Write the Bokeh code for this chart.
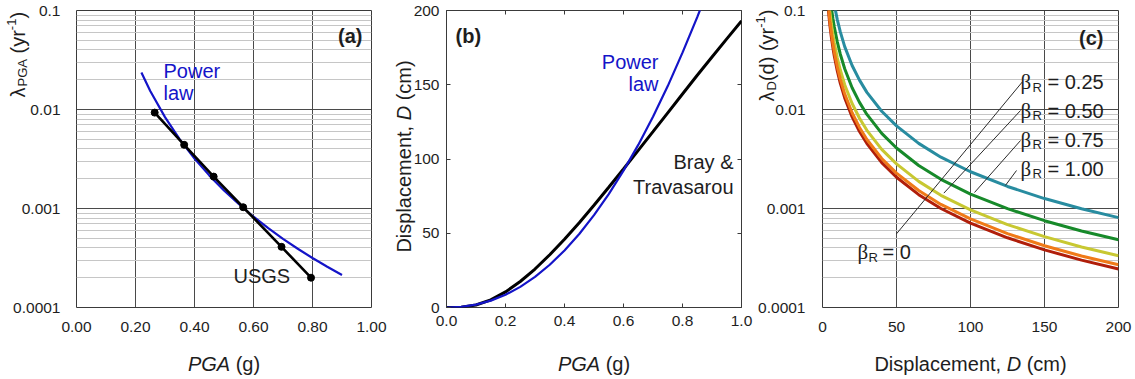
from math import pi

from bokeh.core.properties import value
from bokeh.embed import file_html
from bokeh.layouts import column, row
from bokeh.models import (CustomJSTickFormatter, FixedTicker, Label,
                          LinearAxis, Range1d)
from bokeh.plotting import figure
from bokeh.resources import INLINE

# ---------------- (a) annual exceedance rate of PGA ----------------
usgs_pga = [0.265, 0.365, 0.465, 0.565, 0.695, 0.795]
usgs_rate = [0.0093, 0.0044, 0.0021, 0.00103, 0.00041, 0.00020]
fit_pga = [0.22, 0.25, 0.30, 0.35, 0.40, 0.45, 0.50, 0.55,
           0.60, 0.65, 0.70, 0.75, 0.80, 0.85, 0.90]
fit_rate = [0.0236, 0.0154, 0.00838, 0.00500, 0.00320, 0.00216, 0.00152, 0.00111,
            0.000826, 0.000633, 0.000494, 0.000392, 0.000316, 0.000258, 0.000213]

# ---------------- (b) displacement vs PGA ----------------
bt_pga = [0.0, 0.05, 0.10, 0.15, 0.20, 0.25, 0.30, 0.35, 0.40, 0.45, 0.50,
          0.55, 0.60, 0.65, 0.70, 0.75, 0.80, 0.85, 0.90, 0.95, 1.00]
bt_disp = [0.0, 0.2, 1.7, 5.1, 10.5, 17.5, 25.9, 35.5, 46.0, 57.1, 68.9,
           81.0, 93.3, 105.8, 118.4, 131.1, 143.8, 156.4, 168.7, 180.9, 193.0]
pow_pga = [0.0, 0.05, 0.10, 0.15, 0.20, 0.25, 0.30, 0.35, 0.40, 0.45,
           0.50, 0.55, 0.60, 0.65, 0.70, 0.75, 0.80, 0.85, 0.90]
pow_disp = [0.0, 0.43, 1.92, 4.62, 8.60, 13.9, 20.6, 28.8, 38.4, 49.5,
            62.2, 76.4, 92.2, 109.5, 128.5, 149.1, 171.6, 195.5, 221.2]

# ---------------- (c) displacement hazard curves ----------------
disp_c = [4, 5, 6, 7, 8, 10, 12, 15, 20, 25, 30, 40, 50, 65, 80, 100, 125, 150, 175, 200]
rate_b000 = [0.100, 0.0710, 0.0536, 0.0424, 0.0345, 0.0245, 0.0185, 0.0131, 0.00843, 0.00599,
             0.00453, 0.00291, 0.00207, 0.00138, 0.00100, 0.000713, 0.000506, 0.000382, 0.000301, 0.000245]
rate_b025 = [0.110, 0.0781, 0.0590, 0.0466, 0.0380, 0.0270, 0.0204, 0.0144, 0.00927, 0.00659,
             0.00498, 0.00320, 0.00228, 0.00152, 0.00110, 0.000784, 0.000557, 0.000420, 0.000331, 0.000270]
rate_b050 = [0.136, 0.0966, 0.0729, 0.0577, 0.0469, 0.0333, 0.0252, 0.0178, 0.0115, 0.00815,
             0.00616, 0.00396, 0.00282, 0.00188, 0.00136, 0.000970, 0.000688, 0.000520, 0.000409, 0.000333]
rate_b075 = [0.197, 0.140, 0.106, 0.0835, 0.0680, 0.0483, 0.0364, 0.0258, 0.0166, 0.0118,
             0.00892, 0.00573, 0.00408, 0.00272, 0.00197, 0.00140, 0.000997, 0.000753, 0.000593, 0.000483]
rate_b100 = [0.330, 0.234, 0.177, 0.140, 0.114, 0.0809, 0.0611, 0.0432, 0.0278, 0.0198,
             0.0149, 0.00960, 0.00683, 0.00455, 0.00330, 0.00235, 0.00167, 0.00126, 0.000993, 0.000809]
beta_labels = ["0.25", "0.50", "0.75", "1.00"]

# tick positions
pga_ticks = [0.0, 0.2, 0.4, 0.6, 0.8, 1.0]
rate_ticks = [1e-4, 1e-3, 1e-2, 1e-1]
rate_minor = [k * 10.0 ** e for e in (-4, -3, -2) for k in range(2, 10)]
disp_ticks = [0, 50, 100, 150, 200]

FONT = "Liberation Sans"
INK = "#1e1e1e"
BLUE = "#1414c8"
FRAME_LINE = "#3a3a3a"
MAJOR_GRID = "#4a4a4a"
MINOR_GRID = "#c6c6c6"

PAGE_W, PAGE_H = 1135, 379
TOP, FRAME_H, BOTTOM = 10, 297, 72
FRAME_BOTTOM = TOP + FRAME_H


def panel(left, frame_w, right, xr, yr, log_y=False):
    p = figure(frame_width=frame_w, frame_height=FRAME_H,
               min_border_left=left, min_border_right=right,
               min_border_top=TOP, min_border_bottom=BOTTOM,
               x_range=Range1d(*xr), y_range=Range1d(*yr),
               y_axis_type="log" if log_y else "linear",
               output_backend="svg", toolbar_location=None)
    p.outline_line_color = FRAME_LINE
    p.outline_line_width = 1
    p.background_fill_color = "white"
    p.border_fill_color = "white"
    for ax in p.axis:
        ax.axis_line_color = None
        ax.major_tick_line_color = None
        ax.minor_tick_line_color = None
        ax.major_label_text_font = FONT
        ax.major_label_text_font_size = "15.5px"
        ax.major_label_text_color = INK
    p.xaxis.major_label_standoff = 8
    return p


def put(p, frame_left, text, cx, cy, size=20, style="normal", color=INK,
        align="left", font=FONT):
    """In-frame text piece placed by page position (cx, cy from the page's top-left)."""
    p.add_layout(Label(x=cx - frame_left, y=FRAME_BOTTOM - cy,
                       x_units="screen", y_units="screen", text=text,
                       text_font=font, text_font_size=f"{size}px",
                       text_font_style=style, text_color=color,
                       text_align=align, text_baseline="middle"))


log_fmt = CustomJSTickFormatter(code="return tick.toFixed(Math.round(-Math.log10(tick)));")

# ======================= panel (a) =======================
FA = 76
pa = panel(FA, 295, 19, (0, 1), (1e-4, 0.1), log_y=True)
pa.xaxis.ticker = FixedTicker(ticks=pga_ticks)
pa.xaxis.formatter = CustomJSTickFormatter(code="return tick.toFixed(2);")
pa.yaxis.ticker = FixedTicker(ticks=rate_ticks, minor_ticks=rate_minor)
pa.yaxis.formatter = log_fmt
pa.yaxis.major_label_standoff = 10
pa.xgrid.ticker = FixedTicker(ticks=pga_ticks)
pa.ygrid.ticker = FixedTicker(ticks=rate_ticks, minor_ticks=rate_minor)
pa.xgrid.grid_line_color = MAJOR_GRID
pa.ygrid.grid_line_color = MAJOR_GRID
pa.ygrid.minor_grid_line_color = MINOR_GRID

pa.line(fit_pga, fit_rate, line_color=BLUE, line_width=2.2)
pa.line(usgs_pga, usgs_rate, line_color="black", line_width=2.6)
pa.scatter(usgs_pga, usgs_rate, size=7, color="black")

put(pa, FA, "(a)", 362, 35, size=20, style="bold", align="right")
put(pa, FA, "Power", 163, 70, color=BLUE)
put(pa, FA, "law", 163, 92, color=BLUE)
put(pa, FA, "USGS", 233, 275)

# ======================= panel (b) =======================
FB = 446
pb = panel(56, 295, 14, (0, 1), (0, 200))
pb.xgrid.visible = False
pb.ygrid.visible = False
pb.xaxis.ticker = FixedTicker(ticks=pga_ticks)
pb.xaxis.formatter = CustomJSTickFormatter(code="return tick.toFixed(1);")
pb.yaxis.ticker = FixedTicker(ticks=disp_ticks)
pb.yaxis.formatter = CustomJSTickFormatter(code="return tick.toFixed(0);")
pb.yaxis.major_label_standoff = 7
for loc, ticks in (("right", disp_ticks), ("above", pga_ticks)):
    pb.add_layout(LinearAxis(ticker=FixedTicker(ticks=ticks),
                             formatter=CustomJSTickFormatter(code="return '';"),
                             major_label_standoff=0), loc)
for ax in pb.axis:
    ax.axis_line_color = None
    ax.minor_tick_line_color = None
    ax.major_tick_line_color = FRAME_LINE
    ax.major_tick_in = 4
    ax.major_tick_out = 0

pb.line(bt_pga, bt_disp, line_color="black", line_width=3)
pb.line(pow_pga, pow_disp, line_color=BLUE, line_width=2.2)

put(pb, FB, "(b)", 455, 35, size=20, style="bold")
put(pb, FB, "Power", 658, 61, color=BLUE, align="right")
put(pb, FB, "law", 658, 83, color=BLUE, align="right")
put(pb, FB, "Bray &", 733, 161.5, align="right")
put(pb, FB, "Travasarou", 733, 186, align="right")

# ======================= panel (c) =======================
FC = 822
pc = panel(67, 296, 17, (0, 200), (1e-4, 0.1), log_y=True)
pc.xaxis.ticker = FixedTicker(ticks=disp_ticks)
pc.xaxis.formatter = CustomJSTickFormatter(code="return tick.toFixed(0);")
pc.yaxis.ticker = FixedTicker(ticks=rate_ticks, minor_ticks=rate_minor)
pc.yaxis.formatter = log_fmt
pc.yaxis.major_label_standoff = 11
pc.xgrid.ticker = FixedTicker(ticks=disp_ticks)
pc.ygrid.ticker = FixedTicker(ticks=rate_ticks, minor_ticks=rate_minor)
pc.xgrid.grid_line_color = MAJOR_GRID
pc.ygrid.grid_line_color = MAJOR_GRID
pc.ygrid.minor_grid_line_color = MINOR_GRID

curves = [(rate_b100, "#288ca0"), (rate_b075, "#178a2a"), (rate_b050, "#c8c832"),
          (rate_b000, "#b01e0a"), (rate_b025, "#f07a18")]
for rates, col in curves:
    pc.line(disp_c, rates, line_color=col, line_width=3)

# leader lines from the β_R labels
leader_x0 = [50.0, 82.0, 102.7, 123.6]
leader_y0 = [0.000555, 0.00143, 0.00145, 0.00171]
leader_x1 = [134.9, 133.8, 133.8, 131.1]
leader_y1 = [0.0189, 0.00977, 0.00486, 0.00242]
pc.segment(leader_x0, leader_y0, leader_x1, leader_y1, line_color="#2a2a2a", line_width=1)

put(pc, FC, "(c)", 1103, 37, size=20, style="bold", align="right")
for lab, cy in zip(beta_labels, [81.7, 110.3, 139.3, 168.3]):
    put(pc, FC, "β", 1020, cy, size=21, font="Liberation Serif")
    put(pc, FC, "R", 1032, cy + 5, size=13)
    put(pc, FC, "= " + lab, 1047, cy)
put(pc, FC, "β", 857, 251.7, size=21, font="Liberation Serif")
put(pc, FC, "R", 868, 256.7, size=13)
put(pc, FC, "= 0", 882, 251.7)

# ============ axis titles: a transparent sheet laid over the three panels ============
sheet = figure(width=PAGE_W, height=PAGE_H, min_border=0,
               x_range=Range1d(0, PAGE_W), y_range=Range1d(0, PAGE_H),
               x_axis_location=None, y_axis_location=None,
               output_backend="svg", toolbar_location=None)
sheet.grid.visible = False
sheet.outline_line_color = None
sheet.background_fill_color = None
sheet.border_fill_color = None
sheet.margin = (-PAGE_H, 0, 0, 0)


def title_piece(text, cx, cy, size=20, style="normal", rotate=False):
    sheet.text(x=[cx], y=[PAGE_H - cy], text=[text], angle=pi / 2 if rotate else 0.0,
               text_font=value(FONT), text_font_size=f"{size}px",
               text_font_style=style, text_color=INK,
               text_align="left", text_baseline="middle")


# (a) λ_PGA (yr^-1), reading upwards
title_piece("λ", 17, 97, rotate=True)
title_piece("PGA", 22, 86, size=13, rotate=True)
title_piece("(yr", 17, 53, rotate=True)
title_piece("-1", 11, 29.7, size=13, rotate=True)
title_piece(")", 17, 18.1, rotate=True)
title_piece("PGA", 187.4, 363, style="italic")
title_piece("(g)", 235.2, 363)
# (b) Displacement, D (cm)
title_piece("Displacement,", 403, 252.1, rotate=True)
title_piece("D", 403, 119.8, style="italic", rotate=True)
title_piece("(cm)", 403, 99.8, rotate=True)
title_piece("PGA", 557.4, 363, style="italic")
title_piece("(g)", 605.2, 363)
# (c) λ_D(d) (yr^-1)
title_piece("λ", 766, 101, rotate=True)
title_piece("D", 771, 90, size=13, rotate=True)
title_piece("(d)", 766, 80.6, rotate=True)
title_piece("(yr", 766, 50.6, rotate=True)
title_piece("-1", 760, 27.3, size=13, rotate=True)
title_piece(")", 766, 15.7, rotate=True)
title_piece("Displacement,", 873.9, 363)
title_piece("D", 1006.2, 363, style="italic")
title_piece("(cm)", 1026.2, 363)

layout = column(row(pa, pb, pc), sheet)
with open("out.html", "w") as f:
    f.write(file_html(layout, INLINE))
